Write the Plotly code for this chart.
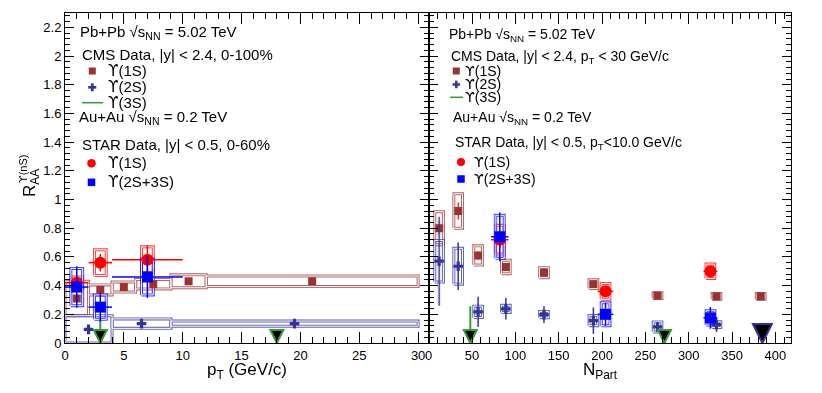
import plotly.graph_objects as go

# ---------------- data: left panel (vs pT) ----------------
cms1s_pt = [1, 3, 5, 7.5, 10.5, 21]
cms1s_pt_lo = [0, 2, 4, 6, 9, 12]
cms1s_pt_hi = [2, 4, 6, 9, 12, 30]
cms1s_pt_raa = [0.31, 0.37, 0.39, 0.41, 0.43, 0.43]
cms1s_pt_stat = [0.03, 0.025, 0.02, 0.02, 0.02, 0.02]
cms1s_pt_syst = [0.12, 0.035, 0.035, 0.033, 0.045, 0.037]

cms2s_pt = [2, 6.5, 19.5]
cms2s_pt_lo = [0, 4, 9]
cms2s_pt_hi = [4, 9, 30]
cms2s_pt_raa = [0.095, 0.135, 0.135]
cms2s_pt_stat = [0.02, 0.02, 0.015]
cms2s_pt_syst = [0.095, 0.033, 0.018]

cms3s_pt_ul_x = [3, 18]
cms3s_pt_ul = [0.17, 0.08]

star1s_pt = [1, 3, 7]
star1s_pt_xlo = [1, 1, 3]
star1s_pt_xhi = [1, 1, 3]
star1s_pt_raa = [0.42, 0.56, 0.58]
star1s_pt_stat = [0.05, 0.06, 0.10]
star1s_pt_syst = [0.04, 0.09, 0.09]

star23s_pt = [1, 3, 7]
star23s_pt_xlo = [1, 1, 3]
star23s_pt_xhi = [1, 1, 3]
star23s_pt_raa = [0.39, 0.25, 0.46]
star23s_pt_stat = [0.145, 0.10, 0.145]
star23s_pt_syst = [0.13, 0.085, 0.125]

# ---------------- data: right panel (vs Npart) ----------------
cms1s_np = [12, 34, 57, 89, 133, 190, 264, 332, 383]
cms1s_np_raa = [0.80, 0.92, 0.61, 0.53, 0.49, 0.41, 0.33, 0.325, 0.325]
cms1s_np_stat = [0.05, 0.06, 0.03, 0.02, 0.015, 0.015, 0.01, 0.01, 0.01]
cms1s_np_syst = [0.115, 0.12, 0.067, 0.047, 0.035, 0.03, 0.02, 0.02, 0.02]

cms2s_np = [12, 34, 57, 89, 133, 190, 264, 332]
cms2s_np_raa = [0.57, 0.535, 0.217, 0.238, 0.198, 0.156, 0.112, 0.128]
cms2s_np_stat = [0.31, 0.165, 0.105, 0.075, 0.058, 0.092, 0.03, 0.05]
cms2s_np_syst = [0.145, 0.125, 0.04, 0.025, 0.022, 0.035, 0.035, 0.02]

cms3s_np_ul_x = [48, 272]
cms3s_np_ul = [0.256, 0.08]
cms2s_np_ul_x = [385]
cms2s_np_ul = [0.08]

star1s_np = [82, 204, 325]
star1s_np_xerr = [10, 9, 8]
star1s_np_raa = [0.72, 0.36, 0.50]
star1s_np_stat = [0.06, 0.03, 0.03]
star1s_np_syst = [0.10, 0.055, 0.05]

star23s_np = [82, 204, 325]
star23s_np_xerr = [10, 9, 8]
star23s_np_raa = [0.74, 0.20, 0.175]
star23s_np_stat = [0.17, 0.08, 0.075]
star23s_np_syst = [0.15, 0.08, 0.05]

# ---------------- styles ----------------
BROWN = "#993333"
NAVY = "#333399"
GREEN = "#3a9a3a"
RED = "#ff0000"
BLUE = "#0000ff"
FONT = "Liberation Sans, Arial, Helvetica, sans-serif"
UPS = "<span style='font-family:DejaVu Sans'>\u03d2</span>"

OFF = 8  # page body margin
W_PX, H_PX = 814, 385
ML, MR, MT, MB = 57, 31, 5, 50
PW = W_PX - ML - MR
PH = H_PX - MT - MB
SPLIT = (428.7 - OFF - ML) / PW


def pxx(x):
    return (x - OFF - ML) / PW


def pxy(y):
    return (H_PX - MB - (y - OFF)) / PH


def box_xy(xlo, xhi, yc, ye):
    xs, ys = [], []
    for a, b, c, e in zip(xlo, xhi, yc, ye):
        xs += [a, b, b, a, a, None]
        ys += [c - e, c - e, c + e, c + e, c - e, None]
    return xs, ys


fig = go.Figure()


def add_boxes(xlo, xhi, yc, ye, color, xa, ya):
    xs, ys = box_xy(xlo, xhi, yc, ye)
    fig.add_trace(go.Scatter(x=xs, y=ys, mode="lines", xaxis=xa, yaxis=ya,
                             line=dict(color=color, width=3), opacity=0.75,
                             showlegend=False, hoverinfo="skip"))
    fig.add_trace(go.Scatter(x=xs, y=ys, mode="lines", xaxis=xa, yaxis=ya,
                             line=dict(color="white", width=1),
                             showlegend=False, hoverinfo="skip"))


def add_ul(xs, uls, color, size, xa, ya):
    lx, ly = [], []
    for x, u in zip(xs, uls):
        lx += [x, x, None]
        ly += [u, 0, None]
    fig.add_trace(go.Scatter(x=lx, y=ly, mode="lines", xaxis=xa, yaxis=ya,
                             line=dict(color=color, width=2), showlegend=False,
                             cliponaxis=False))
    fig.add_trace(go.Scatter(x=xs, y=[0] * len(xs), mode="markers", xaxis=xa, yaxis=ya,
                             marker=dict(symbol="arrow-down", size=size, color="black",
                                         line=dict(color=color, width=2)),
                             showlegend=False, cliponaxis=False))


# ---------- left panel ----------
xa, ya = "x", "y"
add_boxes(cms1s_pt_lo, cms1s_pt_hi, cms1s_pt_raa, cms1s_pt_syst, BROWN, xa, ya)
add_boxes(cms2s_pt_lo, cms2s_pt_hi, cms2s_pt_raa, cms2s_pt_syst, NAVY, xa, ya)
add_boxes([p - 0.5 for p in star1s_pt], [p + 0.5 for p in star1s_pt], star1s_pt_raa, star1s_pt_syst, RED, xa, ya)
add_boxes([p - 0.5 for p in star23s_pt], [p + 0.5 for p in star23s_pt], star23s_pt_raa, star23s_pt_syst, BLUE, xa, ya)

fig.add_trace(go.Scatter(x=cms1s_pt, y=cms1s_pt_raa, mode="markers", xaxis=xa, yaxis=ya,
                         marker=dict(symbol="square", size=8, color=BROWN),
                         error_y=dict(type="data", array=cms1s_pt_stat, color=BROWN, thickness=1.5, width=0),
                         showlegend=False))
fig.add_trace(go.Scatter(x=cms2s_pt, y=cms2s_pt_raa, mode="markers", xaxis=xa, yaxis=ya,
                         marker=dict(symbol="cross", size=8, color=NAVY),
                         error_y=dict(type="data", array=cms2s_pt_stat, color=NAVY, thickness=1.5, width=0),
                         showlegend=False))
add_ul(cms3s_pt_ul_x, cms3s_pt_ul, GREEN, 13, xa, ya)
fig.add_trace(go.Scatter(x=star1s_pt, y=star1s_pt_raa, mode="markers", xaxis=xa, yaxis=ya,
                         marker=dict(symbol="circle", size=12, color=RED),
                         error_x=dict(type="data", array=star1s_pt_xhi, arrayminus=star1s_pt_xlo, color=RED, thickness=1.5, width=0),
                         error_y=dict(type="data", array=star1s_pt_stat, color=RED, thickness=1.5, width=0),
                         showlegend=False))
fig.add_trace(go.Scatter(x=star23s_pt, y=star23s_pt_raa, mode="markers", xaxis=xa, yaxis=ya,
                         marker=dict(symbol="square", size=11, color=BLUE),
                         error_x=dict(type="data", array=star23s_pt_xhi, arrayminus=star23s_pt_xlo, color=BLUE, thickness=1.5, width=0),
                         error_y=dict(type="data", array=star23s_pt_stat, color=BLUE, thickness=1.5, width=0),
                         showlegend=False))

# ---------- right panel ----------
xa, ya = "x2", "y2"
HW = 5
add_boxes([n - HW for n in cms1s_np], [n + HW for n in cms1s_np], cms1s_np_raa, cms1s_np_syst, BROWN, xa, ya)
add_boxes([n - HW for n in cms2s_np], [n + HW for n in cms2s_np], cms2s_np_raa, cms2s_np_syst, NAVY, xa, ya)
add_boxes([n - HW for n in star1s_np], [n + HW for n in star1s_np], star1s_np_raa, star1s_np_syst, RED, xa, ya)
add_boxes([n - HW for n in star23s_np], [n + HW for n in star23s_np], star23s_np_raa, star23s_np_syst, BLUE, xa, ya)

fig.add_trace(go.Scatter(x=cms1s_np, y=cms1s_np_raa, mode="markers", xaxis=xa, yaxis=ya,
                         marker=dict(symbol="square", size=8, color=BROWN),
                         error_y=dict(type="data", array=cms1s_np_stat, color=BROWN, thickness=1.5, width=0),
                         showlegend=False))
fig.add_trace(go.Scatter(x=cms2s_np, y=cms2s_np_raa, mode="markers", xaxis=xa, yaxis=ya,
                         marker=dict(symbol="cross", size=8, color=NAVY),
                         error_y=dict(type="data", array=cms2s_np_stat, color=NAVY, thickness=1.5, width=0),
                         showlegend=False))
add_ul(cms3s_np_ul_x, cms3s_np_ul, GREEN, 13, xa, ya)
add_ul(cms2s_np_ul_x, cms2s_np_ul, NAVY, 19, xa, ya)
fig.add_trace(go.Scatter(x=star1s_np, y=star1s_np_raa, mode="markers", xaxis=xa, yaxis=ya,
                         marker=dict(symbol="circle", size=12, color=RED),
                         error_x=dict(type="data", array=star1s_np_xerr, color=RED, thickness=1.5, width=0),
                         error_y=dict(type="data", array=star1s_np_stat, color=RED, thickness=1.5, width=0),
                         showlegend=False))
fig.add_trace(go.Scatter(x=star23s_np, y=star23s_np_raa, mode="markers", xaxis=xa, yaxis=ya,
                         marker=dict(symbol="square", size=11, color=BLUE),
                         error_x=dict(type="data", array=star23s_np_xerr, color=BLUE, thickness=1.5, width=0),
                         error_y=dict(type="data", array=star23s_np_stat, color=BLUE, thickness=1.5, width=0),
                         showlegend=False))

# ---------- axes ----------
common_x = dict(showline=True, linecolor="black", linewidth=1, mirror="allticks",
                ticks="inside", ticklen=11, tickcolor="black", tickwidth=1,
                showgrid=False, zeroline=False,
                tickfont=dict(family=FONT, size=13, color="black"))
common_y = dict(showline=True, linecolor="black", linewidth=1, mirror="allticks",
                ticks="inside", ticklen=9, tickcolor="black", tickwidth=1,
                showgrid=False, zeroline=False, range=[0, 2.3], dtick=0.2, tick0=0,
                minor=dict(ticks="inside", ticklen=5, dtick=0.04, tickcolor="black", showgrid=False),
                tickfont=dict(family=FONT, size=13, color="black"))

fig.update_layout(
    xaxis=dict(**common_x, domain=[0, SPLIT], range=[0, 30.9], dtick=5, tick0=0,
               minor=dict(ticks="inside", ticklen=6, dtick=1, tickcolor="black", showgrid=False),
               anchor="y"),
    xaxis2=dict(**common_x, domain=[SPLIT, 1], range=[0, 418], dtick=50, tick0=0,
                minor=dict(ticks="inside", ticklen=6, dtick=10, tickcolor="black", showgrid=False),
                anchor="y2"),
    yaxis=dict(**common_y, domain=[0, 1], anchor="x"),
    yaxis2=dict(**common_y, domain=[0, 1], anchor="x2", showticklabels=False),
    width=W_PX, height=H_PX,
    margin=dict(l=ML, r=MR, t=MT, b=MB, pad=0),
    paper_bgcolor="white", plot_bgcolor="white",
    showlegend=False,
    font=dict(family=FONT, color="black"),
)

ann = []
shapes = []


def text(x, y, s, size, color="black", anchor="left", angle=0):
    ann.append(dict(x=pxx(x), y=pxy(y), xref="paper", yref="paper", text=s, showarrow=False,
                    xanchor=anchor, yanchor="middle", textangle=angle,
                    font=dict(family=FONT, size=size, color=color)))


def key_square(x, y, s, color):
    shapes.append(dict(type="rect", xref="paper", yref="paper", xsizemode="pixel", ysizemode="pixel",
                       xanchor=pxx(x), yanchor=pxy(y), x0=-s / 2, x1=s / 2, y0=-s / 2, y1=s / 2,
                       fillcolor=color, line=dict(width=0)))


def key_circle(x, y, s, color):
    shapes.append(dict(type="circle", xref="paper", yref="paper", xsizemode="pixel", ysizemode="pixel",
                       xanchor=pxx(x), yanchor=pxy(y), x0=-s / 2, x1=s / 2, y0=-s / 2, y1=s / 2,
                       fillcolor=color, line=dict(width=0)))


def key_line(x0, x1, y, color):
    shapes.append(dict(type="line", xref="paper", yref="paper", x0=pxx(x0), x1=pxx(x1),
                       y0=pxy(y), y1=pxy(y), line=dict(color=color, width=1.5)))


def key_cross(x, y, s, color):
    for (a, b, c, d) in [(-s / 2, s / 2, -s / 6, s / 6), (-s / 6, s / 6, -s / 2, s / 2)]:
        shapes.append(dict(type="rect", xref="paper", yref="paper", xsizemode="pixel", ysizemode="pixel",
                           xanchor=pxx(x), yanchor=pxy(y), x0=a, x1=b, y0=c, y1=d,
                           fillcolor=color, line=dict(width=0)))


# left panel key
F1 = 15
text(78, 32, "Pb+Pb √s<sub>NN</sub> = 5.02 TeV", F1)
text(80, 54, "CMS Data, |y| < 2.4, 0-100%", F1)
key_square(92.3, 71, 7, BROWN)
text(106, 71, UPS + "(1S)", F1)
key_cross(92.3, 87.3, 8, NAVY)
text(106, 87.3, UPS + "(2S)", F1)
key_line(82, 103, 102.7, GREEN)
text(106, 102.7, UPS + "(3S)", F1)
text(77, 117.5, "Au+Au √s<sub>NN</sub> = 0.2 TeV", F1)
text(80, 144, "STAR Data, |y| < 0.5, 0-60%", F1)
key_circle(91.5, 163.3, 8.5, RED)
text(106, 163.3, UPS + "(1S)", F1)
key_square(91.5, 182.3, 7.5, BLUE)
text(106, 182.3, UPS + "(2S+3S)", F1)

# right panel key
F2 = 14
text(447, 35, "Pb+Pb √s<sub>NN</sub> = 5.02 TeV", F2)
text(449, 56.7, "CMS Data, |y| < 2.4, p<sub>T</sub> < 30 GeV/c", F2)
key_square(456.3, 71, 7, BROWN)
text(463, 71, UPS + "(1S)", F2)
key_cross(456.3, 84.5, 7.5, NAVY)
text(463, 84, UPS + "(2S)", F2)
key_line(450, 463, 97.3, GREEN)
text(463, 97.3, UPS + "(3S)", F2)
text(451, 117.5, "Au+Au √s<sub>NN</sub> = 0.2 TeV", F2)
text(452.5, 143.3, "STAR Data, |y| < 0.5, p<sub>T</sub><10.0 GeV/c", F2)
key_circle(461, 162, 8, RED)
text(471.5, 162, UPS + "(1S)", F2)
key_square(461, 179, 7.5, BLUE)
text(471.5, 179, UPS + "(2S+3S)", F2)

# axis titles
text(247, 371, "p<sub>T</sub> (GeV/c)", 17, anchor="center")
text(600, 371, "N<sub>Part</sub>", 17, anchor="center")
text(31, 183, "R<sub>AA</sub>", 17, anchor="center", angle=-90)
text(23, 169, UPS + "(nS)", 11, anchor="center", angle=-90)

fig.update_layout(annotations=ann, shapes=shapes)
fig.write_html("out.html")
